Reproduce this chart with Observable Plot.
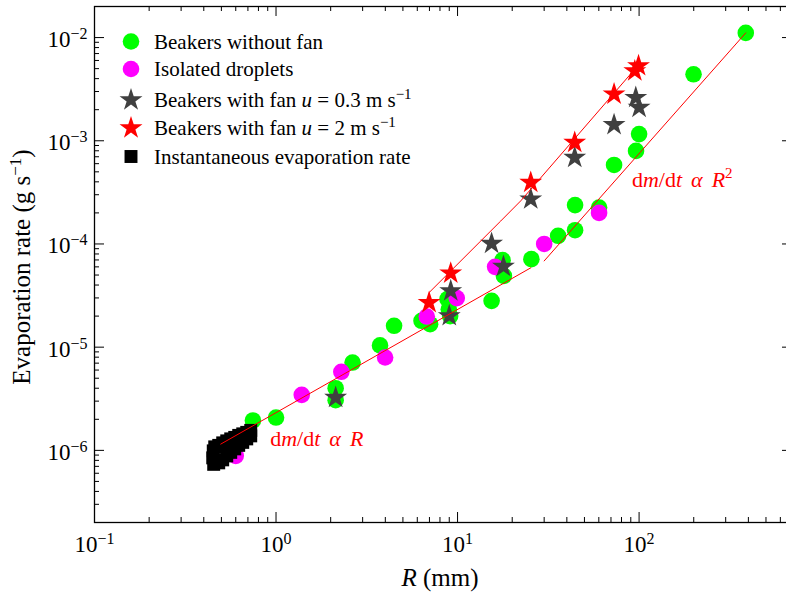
<!DOCTYPE html>
<html><head><meta charset="utf-8">
<script src="https://cdn.jsdelivr.net/npm/d3@7"></script>
<script src="https://cdn.jsdelivr.net/npm/@observablehq/plot@0.6"></script>
<style>
html,body{margin:0;padding:0;background:#fff;}
#chart{width:786px;height:595px;overflow:hidden;}
svg text{white-space:pre;}
</style></head><body><div id="chart"></div>
<script>
// ---- Data (R in mm, evaporation rate in g/s) ----
const greenR = [0.746, 1.0, 2.13, 2.13, 2.64, 3.74, 4.47, 6.33, 7.06, 8.8, 8.95, 9.1, 15.4, 17.7, 18.0, 25.5, 35.8, 44.4, 44.4, 60.2, 72.8, 96.2, 100, 199.5, 387];
const greenE = [1.95e-6, 2.08e-6, 4.0e-6, 3.06e-6, 7.1e-6, 1.04e-5, 1.61e-5, 1.8e-5, 1.67e-5, 2.92e-5, 2.33e-5, 2.0e-5, 2.81e-5, 6.97e-5, 4.9e-5, 7.13e-5, 1.2e-4, 2.38e-4, 1.36e-4, 2.25e-4, 5.83e-4, 7.98e-4, 1.16e-3, 4.41e-3, 1.11e-2];

const dropR = [0.6, 1.386, 2.29, 3.99, 6.77, 9.9, 16.1, 30, 60.2];
const dropE = [8.85e-7, 3.45e-6, 5.77e-6, 7.94e-6, 1.98e-5, 2.99e-5, 6.0e-5, 1.0e-4, 2.0e-4];

const fan03R = [2.13, 9.0, 9.17, 15.4, 17.9, 25.3, 44.2, 72.8, 95.9, 100];
const fan03E = [3.25e-6, 2.01e-5, 3.51e-5, 1.01e-4, 6.04e-5, 2.72e-4, 6.87e-4, 1.43e-3, 2.62e-3, 2.1e-3];

const fan2R = [6.97, 9.17, 25.3, 44.2, 72.8, 94.7, 99.3];
const fan2E = [2.7e-5, 5.21e-5, 3.94e-4, 9.6e-4, 2.83e-3, 4.75e-3, 5.32e-3];

const instR = [0.4535, 0.4834, 0.5084, 0.5352, 0.5628, 0.5922, 0.6229, 0.6555, 0.6896, 0.7255,
               0.448, 0.451, 0.4595, 0.4834, 0.5084, 0.5352, 0.5628, 0.5922, 0.6229, 0.6555, 0.6896, 0.7255];
const instE = [7.32e-7, 7.57e-7, 8.09e-7, 8.84e-7, 9.56e-7, 1.034e-6, 1.118e-6, 1.195e-6, 1.292e-6, 1.382e-6,
               8.46e-7, 9.89e-7, 1.081e-6, 1.118e-6, 1.182e-6, 1.236e-6, 1.292e-6, 1.336e-6, 1.397e-6, 1.445e-6, 1.494e-6, 1.562e-6];

// fit lines
const fitLinR = [0.496, 25.3];
const fitLinE = [1.15e-6, 5.87e-5];
const fitSqR = [30, 387];
const fitSqE = [6.85e-5, 1.11e-2];
const fitFanR = [6.97, 17.3, 22.3, 44.2, 100];
const fitFanE = [3.38e-5, 1.67e-4, 2.62e-4, 1.05e-3, 5.52e-3];

// annotations
const annR = [0.935, 91.9];
const annE = [1.08e-6, 3.52e-4];

// ticks
const xMajor = [0.1, 1, 10, 100];
const xMinorMult = [2, 3, 4, 5, 6, 7, 8, 9];
const yMajor = [1e-6, 1e-5, 1e-4, 1e-3, 1e-2];
const xMinor = [0.1, 1, 10, 100].flatMap(d => xMinorMult.map(m => m * d)).filter(v => v <= 700);
const yMinor = [1e-7, 1e-6, 1e-5, 1e-4, 1e-3, 1e-2].flatMap(d => xMinorMult.map(m => m * d)).filter(v => v >= 2e-7 && v <= 2e-2);

const legendLabels = ["Beakers without fan", "Isolated droplets", "Beakers with fan", "Beakers with fan", "Instantaneous evaporation rate"];

const SERIF = "'Liberation Serif','Times New Roman',Times,serif";
const W = 786, H = 595, mL = 94, mR = -6, mT = 6, mB = 73;
const plotW = W - mL - mR, plotH = H - mT - mB;
const GREEN = "#00ff00", MAG = "#ff00ff", DARK = "#404040", RED = "#ff0000";
const fmt = d => "10^" + Math.round(Math.log10(d));

const chart = Plot.plot({
  width: W, height: H,
  marginLeft: mL, marginRight: mR, marginTop: mT, marginBottom: mB,
  style: {fontFamily: SERIF, background: "white", overflow: "hidden"},
  x: {type: "log", domain: [0.1, 700], axis: null},
  y: {type: "log", domain: [2e-7, 2e-2], axis: null},
  marks: [
    Plot.dot(greenE, {x: greenR, y: greenE, r: 8.3, fill: GREEN}),
    Plot.dot(dropE, {x: dropR, y: dropE, r: 8.3, fill: MAG}),
    Plot.dot(fan03E, {x: fan03R, y: fan03E, r: 7.2, symbol: "star", fill: DARK}),
    Plot.dot(fan2E, {x: fan2R, y: fan2E, r: 7.2, symbol: "star", fill: RED}),
    Plot.dot(instE, {x: instR, y: instE, r: 7.3, symbol: "square", fill: "black"}),
    Plot.line(fitLinE, {x: fitLinR, y: fitLinE, stroke: RED, strokeWidth: 1}),
    Plot.line(fitSqE, {x: fitSqR, y: fitSqE, stroke: RED, strokeWidth: 1}),
    Plot.line(fitFanE, {x: fitFanR, y: fitFanE, stroke: RED, strokeWidth: 1}),
    // ticks (inward)
    Plot.tickX(xMajor, {x: d => d, insetTop: plotH - 10, stroke: "black"}),
    Plot.tickX(xMinor, {x: d => d, insetTop: plotH - 5, stroke: "black"}),
    Plot.tickX(xMajor, {x: d => d, insetBottom: plotH - 10, stroke: "black"}),
    Plot.tickX(xMinor, {x: d => d, insetBottom: plotH - 5, stroke: "black"}),
    Plot.tickY(yMajor, {y: d => d, insetRight: plotW - 10, stroke: "black"}),
    Plot.tickY(yMinor, {y: d => d, insetRight: plotW - 5, stroke: "black"}),
    Plot.tickY(yMajor, {y: d => d, insetLeft: plotW - 10, stroke: "black"}),
    Plot.frame({stroke: "black", strokeWidth: 1.3}),
    // tick labels
    Plot.text(xMajor, {x: d => d, frameAnchor: "bottom", dy: 22, text: fmt, fontSize: 23, fill: "black", lineAnchor: "middle", textAnchor: "middle"}),
    Plot.text(yMajor, {y: d => d, frameAnchor: "left", dx: -7, dy: 2, text: fmt, fontSize: 23, fill: "black", lineAnchor: "middle", textAnchor: "end"})
  ]
});
document.getElementById("chart").appendChild(chart);

const svg = d3.select(chart);
// superscripts on tick labels
svg.selectAll("text").each(function() {
  const m = /^10\^(-?\d+)$/.exec(this.textContent);
  if (!m) return;
  const e = m[1].replace("-", "\u2212");
  const s = d3.select(this);
  s.text(null);
  s.append("tspan").text("10");
  s.append("tspan").attr("font-size", 16).attr("dy", -8).text(e);
});

function rich(t, parts) {
  parts.forEach(p => {
    const ts = t.append("tspan").text(p.t);
    if (p.i) ts.attr("font-style", "italic");
    if (p.fs) ts.attr("font-size", p.fs);
    if (p.dy) ts.attr("dy", p.dy);
    if (p.dx) ts.attr("dx", p.dx);
  });
  return t;
}

// axis titles
rich(svg.append("text").attr("x", 440).attr("y", 586).attr("text-anchor", "middle")
  .attr("font-family", SERIF).attr("font-size", 25).attr("fill", "black"),
  [{t: "R", i: true}, {t: " (mm)"}]);
rich(svg.append("text").attr("transform", "translate(30,267) rotate(-90)").attr("text-anchor", "middle")
  .attr("font-family", SERIF).attr("font-size", 25).attr("fill", "black"),
  [{t: "Evaporation rate (g s"}, {t: "\u22121", fs: 17, dy: -9}, {t: ")", dy: 9}]);

// annotations
const sx = chart.scale("x"), sy = chart.scale("y");
rich(svg.append("text").attr("x", sx.apply(annR[0])).attr("y", sy.apply(annE[0])).attr("text-anchor", "start")
  .attr("font-family", SERIF).attr("font-size", 22).attr("fill", RED),
  [{t: "d"}, {t: "m", i: true}, {t: "/d"}, {t: "t", i: true}, {t: "\u03B1", i: true, dx: 9}, {t: "R", i: true, dx: 9}]);
rich(svg.append("text").attr("x", sx.apply(annR[1])).attr("y", sy.apply(annE[1])).attr("text-anchor", "start")
  .attr("font-family", SERIF).attr("font-size", 22).attr("fill", RED),
  [{t: "d"}, {t: "m", i: true}, {t: "/d"}, {t: "t", i: true}, {t: "\u03B1", i: true, dx: 9}, {t: "R", i: true, dx: 9}, {t: "2", fs: 15, dy: -9}]);

// legend
const legRows = [41.5, 69, 100, 128, 156.5];
const legSyms = [
  {sym: d3.symbolCircle, r: 8.3, fill: GREEN},
  {sym: d3.symbolCircle, r: 8.3, fill: MAG},
  {sym: d3.symbolStar, r: 7.2, fill: DARK},
  {sym: d3.symbolStar, r: 7.2, fill: RED},
  {sym: d3.symbolSquare, r: 7.3, fill: "black"}
];
const legParts = [
  [{t: legendLabels[0]}],
  [{t: legendLabels[1]}],
  [{t: legendLabels[2] + " "}, {t: "u", i: true}, {t: " = 0.3 m s"}, {t: "\u22121", fs: 15, dy: -8}],
  [{t: legendLabels[3] + " "}, {t: "u", i: true}, {t: " = 2 m s"}, {t: "\u22121", fs: 15, dy: -8}],
  [{t: legendLabels[4]}]
];
const leg = svg.append("g").attr("text-anchor", "start");
legRows.forEach((cy, i) => {
  const s = legSyms[i];
  leg.append("path").attr("transform", `translate(131,${cy})`)
    .attr("d", d3.symbol(s.sym, Math.PI * s.r * s.r)()).attr("fill", s.fill);
  rich(leg.append("text").attr("x", 154).attr("y", cy + 7).attr("text-anchor", "start")
    .attr("font-family", SERIF).attr("font-size", 21).attr("fill", "black"), legParts[i]);
});
</script></body></html>
